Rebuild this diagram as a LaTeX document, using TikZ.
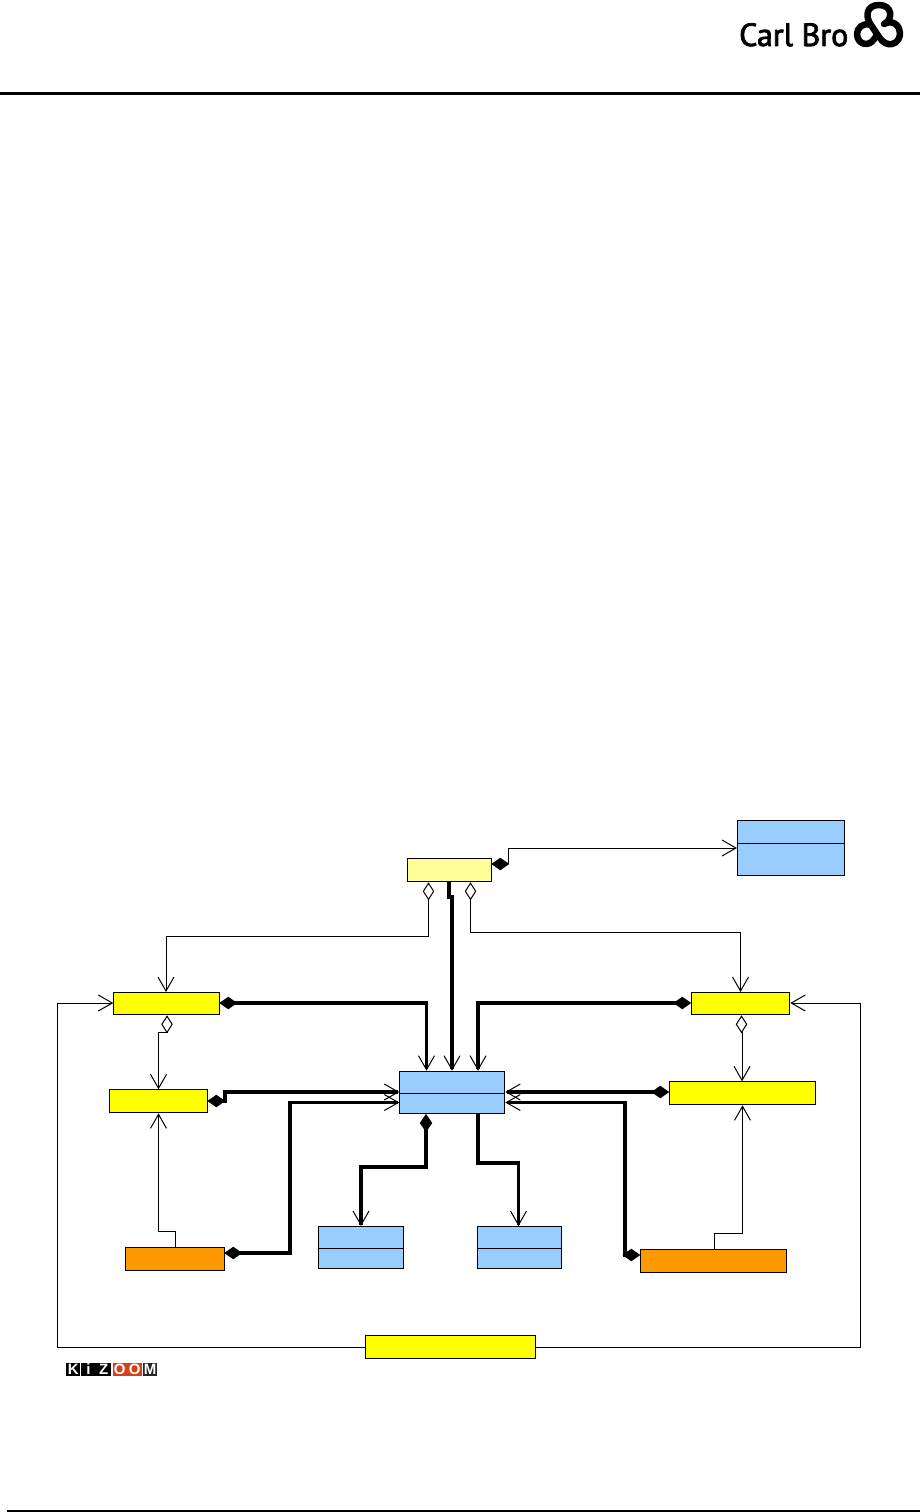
\documentclass[tikz,border=0pt]{standalone}
\usepackage{fontspec}
\newfontfamily\logofont[FakeBold=2.4]{PT Sans}
\newfontfamily\kizfont{Liberation Sans}
\usetikzlibrary{arrows.meta,calc}
\definecolor{paleY}{HTML}{FFFF99}
\definecolor{brightY}{HTML}{FFFF00}
\definecolor{blueB}{HTML}{99CCFF}
\definecolor{orangeB}{HTML}{FF9900}
\definecolor{kizred}{HTML}{D8401A}
\tikzset{
  cls/.style={draw=black,line width=1pt,inner sep=0pt,anchor=north west},
  assoc/.style={line width=1pt,line join=miter},
  strong/.style={line width=3.5pt,line join=miter},
  barb/.style={-{Straight Barb[length=14pt,width=16pt,line width=1pt]}},
  comp/.style={{Diamond[length=18pt,width=12.5pt,line width=0pt]}-{Straight Barb[length=14pt,width=16pt,line width=1pt]}},
  aggr/.style={{Diamond[open,length=18pt,width=11.5pt,line width=1pt]}-{Straight Barb[length=14pt,width=16pt,line width=1pt]}},
  logo/.style={line width=6.5pt,line cap=round,line join=round},
  kizcell/.style={minimum width=14.4pt,minimum height=12.4pt,inner sep=0pt,text=white,font=\kizfont\bfseries\fontsize{15}{15}\selectfont},
}
\begin{document}
\begin{tikzpicture}[x=1pt,y=-1pt]
\useasboundingbox (0,0) rectangle (920,1512);
% page furniture
\coordinate (ruleTL) at (0,93); \coordinate (ruleTR) at (920,93);
\draw[line width=3pt] (ruleTL) -- (ruleTR);
\coordinate (ruleBL) at (7,1511); \coordinate (ruleBR) at (920,1511);
\draw[line width=1.5pt] (ruleBL) -- (ruleBR);
\node[anchor=base west,inner sep=0pt,font=\logofont\fontsize{32}{32}\selectfont] (carl) at (739,46) {Carl Bro};
\draw[logo] (884,24) .. controls (893,20) and (893,5) .. (879,5) .. controls (866,5) and (865,17) .. (871,25) -- (879,37) .. controls (883,43) and (888,45) .. (892,44) .. controls (898,43) and (900,37) .. (900,33) .. controls (900,26) and (893,19) .. (884,24);
\draw[logo] (871,25) .. controls (863,22) and (857,28) .. (857,34) .. controls (857,40) and (861,44) .. (866,44) .. controls (870,44) and (874,41) .. (877,34);
% classes
\node[cls,fill=paleY,minimum width=84pt,minimum height=23pt] (mgr) at (407.3,858.3) {};
\node[cls,fill=blueB,minimum width=107pt,minimum height=55pt] (topblue) at (737,820) {};
\node[cls,fill=brightY,minimum width=106pt,minimum height=22.3pt] (L1) at (113.3,992) {};
\node[cls,fill=brightY,minimum width=98.6pt,minimum height=23pt] (L2) at (108.7,1089.3) {};
\node[cls,fill=brightY,minimum width=98pt,minimum height=22.3pt] (R1) at (691.3,992) {};
\node[cls,fill=brightY,minimum width=145.4pt,minimum height=23pt] (R2) at (669.3,1081.3) {};
\node[cls,fill=blueB,minimum width=105pt,minimum height=42.3pt] (core) at (399.3,1070.7) {};
\node[cls,fill=orangeB,minimum width=99pt,minimum height=23pt] (OL) at (125.3,1247) {};
\node[cls,fill=orangeB,minimum width=146pt,minimum height=23pt] (OR) at (640.3,1249.3) {};
\node[cls,fill=blueB,minimum width=85pt,minimum height=42pt] (BL) at (318.3,1226) {};
\node[cls,fill=blueB,minimum width=84pt,minimum height=42pt] (BR) at (477.3,1226) {};
\node[cls,fill=brightY,minimum width=170pt,minimum height=23pt] (bar) at (365.3,1335) {};
% class dividers
\draw[line width=1pt] (topblue.west |- 0,843) -- (topblue.east |- 0,843);
\draw[line width=1pt] (core.west |- 0,1093.3) -- (core.east |- 0,1093.3);
\draw[line width=1pt] (BL.west |- 0,1248) -- (BL.east |- 0,1248);
\draw[line width=1pt] (BR.west |- 0,1248) -- (BR.east |- 0,1248);
% thin associations
\draw[assoc,comp] ([xshift=-1pt]mgr.east |- 0,864) -- (508.3,864) -- (508.3,848) -- (topblue.west |- 0,848);
\draw[assoc,aggr] (428.5,0 |- mgr.south) -- (428.5,936) -- (166,936) -- (166,0 |- L1.north);
\draw[assoc,aggr] (470.5,0 |- mgr.south) -- (470.5,932) -- (740.5,932) -- (740.5,0 |- R1.north);
\draw[assoc,aggr] (167,0 |- L1.south) -- (167,1032) -- (158.5,1032) -- (158.5,0 |- L2.north);
\draw[assoc,aggr] (741.5,0 |- R1.south) -- (741.5,1032) -- (742,1032) -- (742,0 |- R2.north);
\draw[assoc,barb] (175,0 |- OL.north) -- (175,1231) -- (158.5,1231) -- (158.5,0 |- L2.south);
\draw[assoc,barb] (714.5,0 |- OR.north) -- (714.5,1233) -- (742.5,1233) -- (742.5,0 |- R2.south);
\draw[assoc,barb] (bar.west |- 0,1347) -- (57.5,1347) -- (57.5,1003) -- (L1.west |- 0,1003);
\draw[assoc,barb] (bar.east |- 0,1347) -- (860,1347) -- (860,1003) -- (R1.east |- 0,1003);
% strong associations
\draw[strong,barb] (449,0 |- mgr.south) -- (449,897) -- (452,897) -- (452,0 |- core.north);
\draw[strong,comp] ([xshift=-1pt]L1.east |- 0,1003) -- (426.5,1003) -- (426.5,0 |- core.north);
\draw[strong,comp] (R1.west |- 0,1003) -- (478,1003) -- (478,0 |- core.north);
\draw[strong,comp] ([xshift=-1pt]L2.east |- 0,1101) -- (225,1101) -- (225,1092) -- (core.west |- 0,1092);
\draw[strong,comp] ([xshift=-1pt]OL.east |- 0,1253) -- (290,1253) -- (290,1102.5) -- (core.west |- 0,1102.5);
\draw[strong,comp] (R2.west |- 0,1092) -- (core.east |- 0,1092);
\draw[strong,comp] (OR.west |- 0,1255) -- (625,1255) -- (625,1102.5) -- (core.east |- 0,1102.5);
\draw[strong,comp] (426,0 |- core.south) -- (426,1167) -- (361,1167) -- (361,0 |- BL.north);
\draw[strong,barb] (478,0 |- core.south) -- (478,1163) -- (518.5,1163) -- (518.5,0 |- BR.north);
% Kizoom logo
\node[kizcell,fill=black] (k1) at (73.2,1369.5) {K};
\node[kizcell,fill=black] (k2) at (88.4,1369.5) {i};
\node[kizcell,fill=black] (k3) at (103.6,1369.5) {Z};
\node[kizcell,fill=kizred] (k4) at (119.8,1369.5) {O};
\node[kizcell,fill=kizred] (k5) at (134.6,1369.5) {O};
\node[kizcell,fill=black!85] (k6) at (150.1,1369.5) {M};
\end{tikzpicture}
\end{document}
